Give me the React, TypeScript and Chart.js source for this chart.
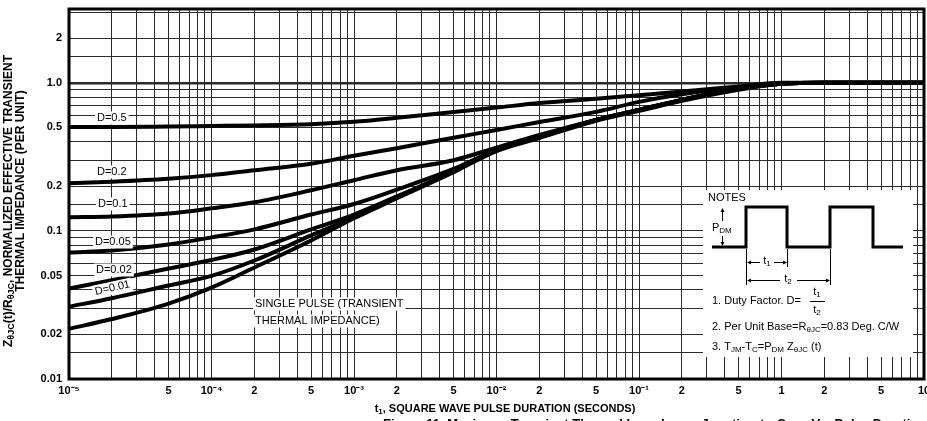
import React, { useEffect, useRef } from "react";
import { Chart, registerables } from "chart.js";

Chart.register(...registerables);

// ---------- data ----------
const pulseTimes = [1e-5, 2e-5, 5e-5, 1e-4, 2e-4, 5e-4, 1e-3, 2e-3, 5e-3, 1e-2, 2e-2, 5e-2, 0.1, 0.2, 0.5, 1, 2, 5, 10];

const zD050 = [0.503, 0.503, 0.507, 0.511, 0.515, 0.525, 0.545, 0.58, 0.635, 0.68, 0.73, 0.78, 0.825, 0.873, 0.944, 1, 1, 1, 1];
const zD020 = [0.21, 0.215, 0.225, 0.238, 0.257, 0.284, 0.322, 0.362, 0.426, 0.48, 0.544, 0.636, 0.743, 0.836, 0.932, 0.99, 1, 1, 1];
const zD010 = [0.1235, 0.125, 0.131, 0.142, 0.156, 0.188, 0.22, 0.257, 0.3, 0.365, 0.444, 0.561, 0.656, 0.767, 0.911, 0.984, 1, 1, 1];
const zD005 = [0.0715, 0.0738, 0.081, 0.0904, 0.1024, 0.129, 0.152, 0.19, 0.262, 0.352, 0.435, 0.561, 0.656, 0.767, 0.911, 0.984, 1, 1, 1];
const zD002 = [0.0408, 0.0465, 0.0557, 0.0636, 0.0749, 0.1024, 0.129, 0.171, 0.253, 0.351, 0.43, 0.561, 0.656, 0.767, 0.911, 0.984, 1, 1, 1];
const zD001 = [0.0308, 0.0351, 0.0428, 0.0497, 0.0631, 0.0932, 0.1235, 0.1687, 0.253, 0.351, 0.43, 0.561, 0.656, 0.767, 0.911, 0.984, 1, 1, 1];
const zSingle = [0.0218, 0.0254, 0.0323, 0.0414, 0.0566, 0.0862, 0.1216, 0.166, 0.249, 0.346, 0.424, 0.553, 0.646, 0.755, 0.897, 0.984, 1, 1, 1];

const seriesNames = ["D=0.5", "D=0.2", "D=0.1", "D=0.05", "D=0.02", "D=0.01", "SINGLE PULSE"];
const seriesValues = [zD050, zD020, zD010, zD005, zD002, zD001, zSingle];

const xTickValues = [1e-5, 5e-5, 1e-4, 2e-4, 5e-4, 1e-3, 2e-3, 5e-3, 1e-2, 2e-2, 5e-2, 0.1, 0.2, 0.5, 1, 2, 5, 10];
const xTickTexts = ["10⁻⁵", "5", "10⁻⁴", "2", "5", "10⁻³", "2", "5", "10⁻²", "2", "5", "10⁻¹", "2", "5", "1", "2", "5", "10"];
const yTickValues = [0.01, 0.02, 0.05, 0.1, 0.2, 0.5, 1, 2];
const yTickTexts = ["0.01", "0.02", "0.05", "0.1", "0.2", "0.5", "1.0", "2"];

const xGridMultipliers = [1, 2, 3, 4, 5, 6, 7, 8, 9];
const yGridMultipliers = [1, 1.5, 2, 3, 4, 5, 6, 7, 8, 9];
const xDecades = [-5, -4, -3, -2, -1, 0];
const yDecades = [-2, -1, 0];

const X_MIN = 1e-5, X_MAX = 10, Y_MIN = 0.01, Y_MAX = 3.15;

// ---------- helpers ----------
const FONT = "'Liberation Sans', Arial, Helvetica, sans-serif";
const same = (a: number, b: number) => Math.abs(Math.log10(a) - Math.log10(b)) < 1e-6;

const xGridValues: number[] = [];
xDecades.forEach((e) => xGridMultipliers.forEach((m) => xGridValues.push(Number((m * Math.pow(10, e)).toPrecision(6)))));
xGridValues.push(10);
const yGridValues: number[] = [];
yDecades.forEach((e) => yGridMultipliers.forEach((m) => {
  const v = Number((m * Math.pow(10, e)).toPrecision(6));
  if (v <= Y_MAX) yGridValues.push(v);
}));

type Seg = [string, boolean?];

function segFont(size: number, weight: string, sub?: boolean) {
  return `${weight} ${sub ? Math.round(size * 0.72) : size}px ${FONT}`;
}
function richWidth(ctx: CanvasRenderingContext2D, segs: Seg[], size: number, weight: string) {
  let w = 0;
  for (const [t, sub] of segs) {
    ctx.font = segFont(size, weight, sub);
    w += ctx.measureText(t).width;
  }
  return w;
}
function drawRich(ctx: CanvasRenderingContext2D, segs: Seg[], x: number, y: number, size: number, weight: string, align: "left" | "center" = "left") {
  const w = richWidth(ctx, segs, size, weight);
  let cx = align === "center" ? x - w / 2 : x;
  ctx.textBaseline = "middle";
  ctx.textAlign = "left";
  for (const [t, sub] of segs) {
    ctx.font = segFont(size, weight, sub);
    ctx.fillText(t, cx, sub ? y + size * 0.25 : y);
    cx += ctx.measureText(t).width;
  }
  return w;
}
function labelWithBg(ctx: CanvasRenderingContext2D, text: string, x: number, y: number, size: number, angle = 0) {
  ctx.save();
  ctx.translate(x, y);
  ctx.rotate(angle);
  ctx.font = `normal ${size}px ${FONT}`;
  const w = ctx.measureText(text).width;
  ctx.fillStyle = "#fff";
  ctx.fillRect(-2, -size / 2 - 1, w + 4, size + 2);
  ctx.fillStyle = "#000";
  ctx.textBaseline = "middle";
  ctx.textAlign = "left";
  ctx.fillText(text, 0, 0);
  ctx.restore();
}
function arrowHead(ctx: CanvasRenderingContext2D, x: number, y: number, dir: "l" | "r" | "u" | "d") {
  ctx.beginPath();
  const s = 4, h = 2;
  if (dir === "l") { ctx.moveTo(x, y); ctx.lineTo(x + s, y - h); ctx.lineTo(x + s, y + h); }
  if (dir === "r") { ctx.moveTo(x, y); ctx.lineTo(x - s, y - h); ctx.lineTo(x - s, y + h); }
  if (dir === "u") { ctx.moveTo(x, y); ctx.lineTo(x - h, y + s); ctx.lineTo(x + h, y + s); }
  if (dir === "d") { ctx.moveTo(x, y); ctx.lineTo(x - h, y - s); ctx.lineTo(x + h, y - s); }
  ctx.closePath();
  ctx.fill();
}

const overlayPlugin = {
  id: "overlay",
  afterDatasetsDraw(chart: any) {
    const ctx: CanvasRenderingContext2D = chart.ctx;
    const a = chart.chartArea;
    ctx.save();
    ctx.fillStyle = "#000";
    ctx.strokeStyle = "#000";

    // curve labels
    labelWithBg(ctx, "D=0.5", 97, 118, 11);
    labelWithBg(ctx, "D=0.2", 97, 172, 11);
    labelWithBg(ctx, "D=0.1", 98, 204, 11);
    labelWithBg(ctx, "D=0.05", 95, 242, 11);
    labelWithBg(ctx, "D=0.02", 96, 270, 11);
    labelWithBg(ctx, "D=0.01", 95, 292, 11, -0.22);
    labelWithBg(ctx, "SINGLE PULSE (TRANSIENT", 255, 304, 11);
    labelWithBg(ctx, "THERMAL IMPEDANCE)", 255, 321, 11);

    // notes box
    ctx.fillStyle = "#fff";
    ctx.fillRect(703, 190, 210, 167);
    ctx.fillStyle = "#000";
    ctx.font = `normal 11px ${FONT}`;
    ctx.textBaseline = "middle";
    ctx.textAlign = "left";
    ctx.fillText("NOTES", 708, 198);

    // square wave
    ctx.lineWidth = 3;
    ctx.lineJoin = "miter";
    ctx.beginPath();
    ctx.moveTo(712, 247);
    ctx.lineTo(746, 247); ctx.lineTo(746, 207); ctx.lineTo(787, 207); ctx.lineTo(787, 247);
    ctx.lineTo(830, 247); ctx.lineTo(830, 207); ctx.lineTo(873, 207); ctx.lineTo(873, 247);
    ctx.lineTo(903, 247);
    ctx.stroke();

    ctx.lineWidth = 1;
    // PDM
    drawRich(ctx, [["P"], ["DM", true]], 712, 228, 11, "normal");
    ctx.beginPath();
    ctx.moveTo(722.5, 209); ctx.lineTo(722.5, 221);
    ctx.moveTo(722.5, 236); ctx.lineTo(722.5, 245);
    ctx.stroke();
    arrowHead(ctx, 722.5, 208, "u");
    arrowHead(ctx, 722.5, 246, "d");

    // t1 / t2 dimensions
    ctx.beginPath();
    ctx.moveTo(746.5, 249); ctx.lineTo(746.5, 285);
    ctx.moveTo(787.5, 249); ctx.lineTo(787.5, 267);
    ctx.moveTo(830.5, 249); ctx.lineTo(830.5, 285);
    ctx.moveTo(748, 262.5); ctx.lineTo(760, 262.5);
    ctx.moveTo(774, 262.5); ctx.lineTo(786, 262.5);
    ctx.moveTo(748, 280.5); ctx.lineTo(780, 280.5);
    ctx.moveTo(797, 280.5); ctx.lineTo(829, 280.5);
    ctx.stroke();
    arrowHead(ctx, 747, 262.5, "l");
    arrowHead(ctx, 787, 262.5, "r");
    arrowHead(ctx, 747, 280.5, "l");
    arrowHead(ctx, 830, 280.5, "r");
    drawRich(ctx, [["t"], ["1", true]], 767, 261, 11, "normal", "center");
    drawRich(ctx, [["t"], ["2", true]], 788, 279, 11, "normal", "center");

    // numbered notes
    drawRich(ctx, [["1. Duty Factor. D="]], 712, 301, 11, "normal");
    drawRich(ctx, [["t"], ["1", true]], 817, 292, 11, "normal", "center");
    ctx.beginPath(); ctx.moveTo(810, 301.5); ctx.lineTo(825, 301.5); ctx.stroke();
    drawRich(ctx, [["t"], ["2", true]], 817, 310, 11, "normal", "center");
    drawRich(ctx, [["2. Per Unit Base=R"], ["θJC", true], ["=0.83 Deg. C/W"]], 712, 327, 11, "normal");
    drawRich(ctx, [["3. T"], ["JM", true], ["-T"], ["C", true], ["=P"], ["DM", true], [" Z"], ["θJC", true], [" (t)"]], 712, 347, 11, "normal");

    // plot frame
    ctx.lineWidth = 3;
    ctx.strokeRect(a.left, a.top, a.right - a.left, a.bottom - a.top);
    ctx.restore();
  },
  afterDraw(chart: any) {
    const ctx: CanvasRenderingContext2D = chart.ctx;
    ctx.save();
    ctx.fillStyle = "#000";
    // y-axis title (two rotated lines)
    ctx.translate(9, 201);
    ctx.rotate(-Math.PI / 2);
    drawRich(ctx, [["Z"], ["θJC", true], ["(t)/R"], ["θJC", true], [", NORMALIZED EFFECTIVE TRANSIENT"]], 0, 0, 12, "bold", "center");
    ctx.restore();
    ctx.save();
    ctx.fillStyle = "#000";
    ctx.translate(21, 191);
    ctx.rotate(-Math.PI / 2);
    drawRich(ctx, [["THERMAL IMPEDANCE (PER UNIT)"]], 0, 0, 12, "bold", "center");
    ctx.restore();

    // x-axis title
    ctx.save();
    ctx.fillStyle = "#000";
    drawRich(ctx, [["t"], ["1", true], [", SQUARE WAVE PULSE DURATION (SECONDS)"]], 505, 409, 11, "bold", "center");
    // figure caption (cut by the bottom edge)
    ctx.font = `bold 13px ${FONT}`;
    ctx.textBaseline = "top";
    ctx.textAlign = "left";
    ctx.fillText("Figure 11. Maximum Transient Thermal Impedance, Junction-to-Case Vs. Pulse Duration", 383, 418);
    ctx.restore();
  },
};

export default function App() {
  const ref = useRef<HTMLCanvasElement | null>(null);

  useEffect(() => {
    document.body.style.margin = "0";
    const canvas = ref.current;
    if (!canvas) return;

    const datasets = seriesNames.map((name, i) => ({
      label: name,
      data: pulseTimes.map((t, j) => ({ x: t, y: seriesValues[i][j] })),
      borderColor: "#000",
      backgroundColor: "#000",
      borderWidth: 4,
      pointRadius: 0,
      cubicInterpolationMode: "monotone" as const,
      fill: false,
    }));

    const chart = new Chart(canvas, {
      type: "line",
      data: { datasets },
      options: {
        animation: false,
        responsive: false,
        devicePixelRatio: 1,
        layout: { padding: { top: 9, right: 3, bottom: 0, left: 0 } },
        plugins: { legend: { display: false }, tooltip: { enabled: false }, title: { display: false } },
        scales: {
          x: {
            type: "logarithmic",
            min: X_MIN,
            max: X_MAX,
            afterBuildTicks: (s: any) => { s.ticks = xGridValues.map((v) => ({ value: v })); },
            afterFit: (s: any) => { s.height = 42; s.paddingLeft = 0; s.paddingRight = 0; },
            ticks: {
              autoSkip: false,
              maxRotation: 0,
              minRotation: 0,
              padding: 5,
              color: "#000",
              font: { family: FONT, size: 11, weight: "bold" },
              callback: (v: any) => {
                const i = xTickValues.findIndex((t) => same(t, Number(v)));
                return i >= 0 ? xTickTexts[i] : "";
              },
            },
            grid: {
              drawTicks: false,
              color: "#2a2a2a",
              lineWidth: 1,
            },
            border: { display: false },
          },
          y: {
            type: "logarithmic",
            min: Y_MIN,
            max: Y_MAX,
            afterBuildTicks: (s: any) => { s.ticks = yGridValues.map((v) => ({ value: v })); },
            afterFit: (s: any) => { s.width = 69; s.paddingTop = 0; s.paddingBottom = 0; },
            ticks: {
              autoSkip: false,
              padding: 7,
              color: "#000",
              font: { family: FONT, size: 11, weight: "bold" },
              callback: (v: any) => {
                const i = yTickValues.findIndex((t) => same(t, Number(v)));
                return i >= 0 ? yTickTexts[i] : "";
              },
            },
            grid: {
              drawTicks: false,
              color: "#2a2a2a",
              lineWidth: (c: any) => (c.tick && same(c.tick.value, 1) ? 2.5 : 1),
            },
            border: { display: false },
          },
        },
      },
      plugins: [overlayPlugin],
    });
    return () => chart.destroy();
  }, []);

  return (
    <div style={{ position: "fixed", left: 0, top: 0, width: 927, height: 421, background: "#fff" }}>
      <canvas ref={ref} width={927} height={421} style={{ display: "block", width: 927, height: 421 }} />
    </div>
  );
}
